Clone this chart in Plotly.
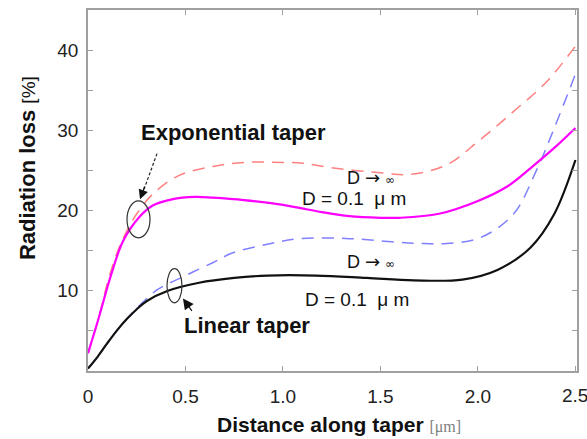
import plotly.graph_objects as go

# ---- data ----
exp_inf_x = [0, 0.05, 0.1, 0.15, 0.2, 0.25, 0.33, 0.46, 0.64, 0.8, 1.0, 1.1, 1.26, 1.5, 1.65, 1.84, 2.0, 2.18, 2.35, 2.5]
exp_inf_y = [2.3, 6.2, 11.0, 14.8, 17.5, 19.6, 22.0, 24.3, 25.5, 26.0, 26.0, 25.9, 25.3, 24.7, 24.5, 25.7, 28.6, 32.3, 36.0, 40.5]

exp_d01_x = [0, 0.05, 0.12, 0.18, 0.26, 0.33, 0.43, 0.55, 0.64, 0.8, 1.0, 1.09, 1.2, 1.34, 1.5, 1.6, 1.8, 2.0, 2.15, 2.27, 2.4, 2.5]
exp_d01_y = [2.2, 6.2, 12.1, 16.2, 19.1, 20.6, 21.4, 21.7, 21.6, 21.3, 20.7, 20.3, 19.8, 19.3, 19.1, 19.1, 19.6, 21.2, 23.0, 25.3, 28.0, 30.3]

lin_inf_x = [0, 0.05, 0.1, 0.15, 0.2, 0.25, 0.3, 0.36, 0.5, 0.64, 0.74, 0.92, 1.09, 1.34, 1.56, 1.7, 1.84, 2.01, 2.18, 2.3, 2.39, 2.5]
lin_inf_y = [0.3, 1.8, 3.5, 5.1, 6.5, 7.8, 9.0, 10.2, 11.9, 13.5, 14.7, 15.8, 16.5, 16.5, 16.1, 15.9, 15.9, 16.6, 19.5, 25.0, 30.2, 37.0]

lin_d01_x = [0, 0.05, 0.1, 0.15, 0.2, 0.25, 0.3, 0.41, 0.57, 0.75, 0.92, 1.17, 1.43, 1.67, 1.92, 2.1, 2.27, 2.39, 2.5]
lin_d01_y = [0.3, 1.8, 3.5, 5.1, 6.5, 7.7, 8.7, 10.0, 11.0, 11.6, 11.9, 11.9, 11.6, 11.3, 11.4, 12.6, 15.4, 19.5, 26.3]

x_tickvals = [0, 0.5, 1.0, 1.5, 2.0, 2.5]
x_ticktext = ["0", "0.5", "1.0", "1.5", "2.0", ""]
x_last_label = "2.5"
y_tickvals = [0, 5, 10, 15, 20, 25, 30, 35, 40, 45]
y_ticktext = ["", "", "10", "", "20", "", "30", "", "40", ""]

FONT = "Liberation Sans, Arial, sans-serif"

fig = go.Figure()
fig.add_trace(go.Scatter(x=exp_inf_x, y=exp_inf_y, mode="lines", line=dict(color="#ff8080", width=1.5, dash="12px,8px", shape="spline")))
fig.add_trace(go.Scatter(x=lin_inf_x, y=lin_inf_y, mode="lines", line=dict(color="#8080ff", width=1.5, dash="12px,8px", shape="spline")))
fig.add_trace(go.Scatter(x=exp_d01_x, y=exp_d01_y, mode="lines", line=dict(color="#ff00ff", width=2.2, shape="spline")))
fig.add_trace(go.Scatter(x=lin_d01_x, y=lin_d01_y, mode="lines", line=dict(color="#111111", width=2.2, shape="spline")))

# ellipses
fig.add_shape(type="circle", xref="x", yref="y", x0=0.2, x1=0.318, y0=16.6, y1=21.2, line=dict(color="#333333", width=1.2))
fig.add_shape(type="circle", xref="x", yref="y", x0=0.405, x1=0.482, y0=8.5, y1=12.75, line=dict(color="#333333", width=1.2))
# dashed arrow shaft for exponential taper
fig.add_shape(type="line", xref="x", yref="y", x0=0.354, y0=27.1, x1=0.285, y1=22.5, line=dict(color="#222222", width=1.2, dash="3px,2px"))

ARROW_INF = "D <span style='font-family:DejaVu Sans;font-size:18px'>→</span> <span style='font-size:12px;font-family:DejaVu Sans'>∞</span>"

annotations = [
    dict(x=0.267, y=21.4, xref="x", yref="y", ax=5, ay=-14, text="", showarrow=True, arrowhead=2, arrowsize=1.6, arrowwidth=1.2, arrowcolor="#111111"),
    dict(x=0.487, y=9.05, xref="x", yref="y", ax=10, ay=14, text="", showarrow=True, arrowhead=2, arrowsize=1.8, arrowwidth=1.2, arrowcolor="#111111"),
    dict(x=139, y=131, text="<b>Exponential taper</b>", size=22),
    dict(x=182, y=325, text="<b>Linear taper</b>", size=22),
    dict(x=345, y=176, text=ARROW_INF, size=18),
    dict(x=345, y=261, text=ARROW_INF, size=18),
    dict(x=300, y=198, text="D = 0.1  μ m", size=19),
    dict(x=303, y=299, text="D = 0.1  μ m", size=19),
]

W, H = 587, 439
L, R, T, B = 88, 10, 8, 68
pw, ph = W - L - R, H - T - B

def px2paper(px, py):
    return (px - L) / pw, (H - B - py) / ph

final_ann = []
for a in annotations:
    if "xref" in a:
        final_ann.append(a)
    else:
        xp, yp = px2paper(a["x"], a["y"])
        final_ann.append(dict(x=xp, y=yp, xref="paper", yref="paper", text=a["text"], showarrow=False,
                              xanchor="left", yanchor="middle",
                              font=dict(family=FONT, size=a.get("size", 20), color="#111111")))

# last x tick label (kept as text so it is not dropped at the edge)
final_ann.append(dict(x=2.5, y=(H - B - 396) / ph, xref="x", yref="paper", text=x_last_label, showarrow=False,
                      xanchor="center", yanchor="middle", font=dict(family=FONT, size=19, color="#222222")))

xt, yt = px2paper(339, 425)
final_ann.append(dict(x=xt, y=yt, xref="paper", yref="paper", showarrow=False, xanchor="center", yanchor="middle",
                      text="<b>Distance along taper</b> <span style='font-family:Liberation Serif,serif;font-size:16px;color:#808080'>[μm]</span>",
                      font=dict(family=FONT, size=21, color="#111111")))
xt, yt = px2paper(27, 167)
final_ann.append(dict(x=xt, y=yt, xref="paper", yref="paper", showarrow=False, xanchor="center", yanchor="middle",
                      textangle=-90,
                      text="<b>Radiation loss</b> <span style='font-size:19px'>[%]</span>",
                      font=dict(family=FONT, size=22, color="#111111")))

axis_common = dict(showgrid=False, zeroline=False, showline=True, linecolor="#a0a0a0", linewidth=1.5,
                   mirror="ticks", ticks="inside", ticklen=5, tickcolor="#a0a0a0",
                   tickfont=dict(family=FONT, size=19, color="#222222"))

fig.update_layout(
    width=W, height=H,
    margin=dict(l=L, r=R, t=T, b=B),
    paper_bgcolor="white", plot_bgcolor="white",
    showlegend=False,
    annotations=final_ann,
    xaxis=dict(range=[0, 2.508], tickvals=x_tickvals, ticktext=x_ticktext, ticklabelstandoff=7, **axis_common),
    yaxis=dict(range=[0, 45], tickvals=y_tickvals, ticktext=y_ticktext, ticklabelstandoff=4, **axis_common),
)

fig.write_html("out.html")
